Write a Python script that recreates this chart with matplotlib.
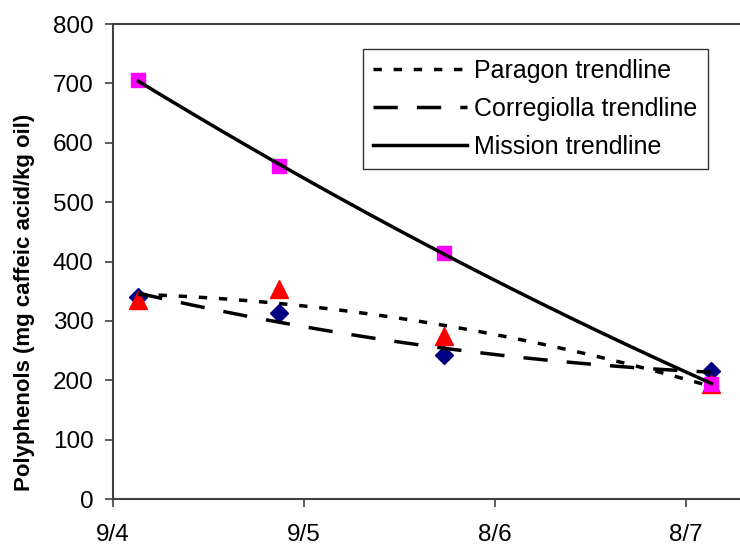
import matplotlib
matplotlib.use("Agg")
import matplotlib.pyplot as plt
import numpy as np

plt.rcParams['font.family'] = ['Liberation Sans', 'DejaVu Sans']

# days after the 9/4 axis origin
days = [4, 26, 52, 94]
paragon = [335, 353, 275, 193]
corregiolla = [340, 314, 242, 216]
mission = [705, 561, 415, 194]

tick_days = [0, 30, 60, 90]
tick_labels = ['9/4', '9/5', '8/6', '8/7']


def trend(x, y, n=200):
    # 2nd order polynomial trendline, like Excel
    c = np.polyfit(x, y, 2)
    xs = np.linspace(min(x), max(x), n)
    return xs, np.polyval(c, xs)


fig = plt.figure(figsize=(7.4, 5.48), dpi=100)
ax = fig.add_axes([0.1527, 0.0894, 0.8604, 0.8668])

# markers
ax.plot(days, corregiolla, linestyle='none', marker='D', ms=9.5,
        color='#000080', zorder=2)
ax.plot(days, paragon, linestyle='none', marker='^', ms=12.5,
        color='#ff0000', zorder=3)
ax.plot(days, mission, linestyle='none', marker='s', ms=10.5,
        color='#ff00ff', zorder=4)

# trendlines
lw = 2.5
xs, ys = trend(days, paragon)
ax.plot(xs, ys, color='black', lw=lw, dashes=(2.4, 3.4),
        label='Paragon trendline', zorder=5)
xs, ys = trend(days, corregiolla)
ax.plot(xs, ys, color='black', lw=lw, dashes=(7, 5.5),
        label='Corregiolla trendline', zorder=5)
xs, ys = trend(days, mission)
ax.plot(xs, ys, color='black', lw=lw, linestyle='-',
        label='Mission trendline', zorder=5)

ax.set_xlim(0, 100)
ax.set_ylim(0, 800)
ax.set_xticks(tick_days)
ax.set_xticklabels(tick_labels)
ax.set_yticks(range(0, 801, 100))

for s in ['left', 'bottom', 'top']:
    ax.spines[s].set_color('#404040')
    ax.spines[s].set_linewidth(1.5)
ax.spines['right'].set_visible(False)

ax.tick_params(axis='both', direction='out', length=6, width=1.2,
               color='#404040', labelsize=17.5, labelcolor='black')
ax.tick_params(axis='x', pad=12)
ax.tick_params(axis='y', pad=8)

ax.set_ylabel('Polyphenols (mg caffeic acid/kg oil)', fontsize=16,
              fontweight='bold')
ax.yaxis.set_label_coords(-0.123, 0.415)

leg = ax.legend(loc='upper left', bbox_to_anchor=(0.393, 0.947),
                fontsize=18, frameon=True, fancybox=False,
                handlelength=3.75, handletextpad=0.3, labelspacing=0.56,
                borderpad=0.4, borderaxespad=0)
leg.get_frame().set_edgecolor('black')
leg.get_frame().set_linewidth(1.0)

fig.savefig('out.png', dpi=100)
